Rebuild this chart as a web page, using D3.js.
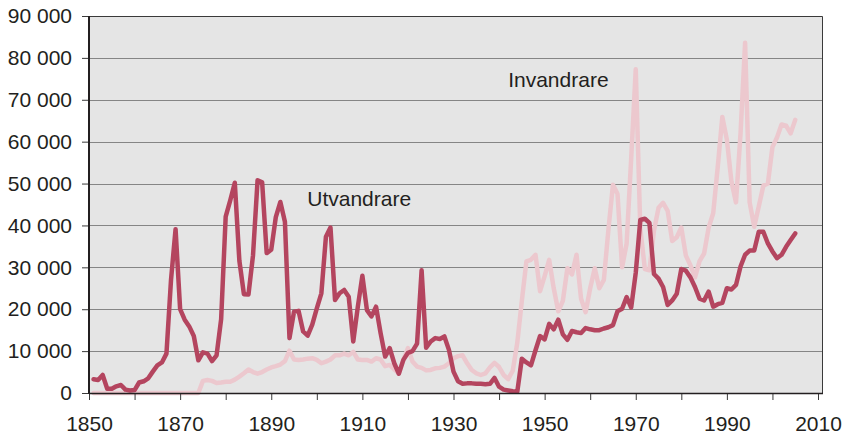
<!DOCTYPE html>
<html>
<head>
<meta charset="utf-8">
<script src="https://cdn.jsdelivr.net/npm/d3@7"></script>
<style>
  body { margin: 0; background: #fff; }
  svg { display: block; font-family: "Liberation Sans", Arial, sans-serif; }
</style>
</head>
<body>
<svg id="chart"></svg>
<script>
// yearly values 1851-2005
const years = d3.range(1851, 2006);

const utvandrare = [
  3300, 3100, 4300, 1000, 1000, 1600, 1900, 800, 600, 700,            // 1851-1860
  2500, 2800, 3500, 5100, 6600, 7300, 9400, 27000, 39100, 20000,      // 1861-1870
  17500, 15900, 13600, 7800, 9700, 9400, 7600, 9000, 17600, 42100,    // 1871-1880
  46000, 50200, 31600, 23600, 23500, 32900, 50800, 50300, 33400, 34200, // 1881-1890
  42000, 45600, 40900, 13100, 19400, 19600, 14700, 13700, 16300, 20200, // 1891-1900
  23800, 37300, 39500, 22200, 23800, 24600, 23000, 12300, 20600, 28000, // 1901-1910
  19800, 18300, 20600, 14300, 8700, 10700, 7100, 4600, 7900, 9600,    // 1911-1920
  10000, 11800, 29300, 10800, 12300, 13100, 12900, 13500, 10300, 5100, // 1921-1930
  2800, 2200, 2300, 2300, 2200, 2200, 2100, 2200, 3600, 1500,         // 1931-1940
  800, 600, 400, 300, 8200, 7300, 6600, 10200, 13600, 12800,          // 1941-1950
  16500, 15200, 17500, 14000, 12700, 14800, 14500, 14300, 15500, 15200, // 1951-1960
  15000, 15000, 15400, 15700, 16200, 19500, 20100, 22900, 20400, 28700, // 1961-1970
  41300, 41600, 40600, 28400, 27300, 25300, 21000, 22100, 23700, 29600, // 1971-1980
  29200, 27600, 25300, 22500, 22100, 24200, 20600, 21200, 21500, 25000, // 1981-1990
  24700, 25800, 30200, 33000, 34000, 34000, 38500, 38500, 35700, 33800, // 1991-2000
  32200, 33000, 34900, 36500, 38100                                   // 2001-2005
];

const invandrare = [
  0, 0, 0, 0, 0, 0, 0, 0, 0, 0,                                       // 1851-1860
  0, 0, 0, 0, 0, 0, 0, 0, 0, 0,                                       // 1861-1870
  0, 0, 0, 0, 2900, 3100, 2900, 2400, 2500, 2700,                     // 1871-1880
  2700, 3200, 3900, 4700, 5600, 5000, 4600, 5000, 5600, 6100,         // 1881-1890
  6400, 6800, 7600, 10100, 8000, 7900, 8000, 8200, 8300, 7900,        // 1891-1900
  7100, 7500, 8000, 9000, 9000, 9400, 9000, 9800, 8000, 7900,         // 1901-1910
  7900, 7500, 8300, 8000, 6400, 6700, 5600, 4700, 7900, 10700,        // 1911-1920
  7500, 6300, 6000, 5400, 5500, 5900, 6000, 6300, 7100, 8300,         // 1921-1930
  8800, 9000, 7100, 5500, 4700, 4300, 4700, 6100, 7200, 6200,         // 1931-1940
  4300, 3300, 5300, 12000, 22000, 31400, 31800, 33000, 24300, 27900,  // 1941-1950
  31800, 25000, 19500, 22000, 29800, 28300, 33000, 22500, 19300, 25000, // 1951-1960
  29800, 25000, 27000, 39000, 49700, 47500, 30000, 35700, 56000, 77300, // 1961-1970
  39300, 29600, 29300, 38800, 44200, 45400, 43500, 36300, 37200, 39500, // 1971-1980
  32800, 30500, 27600, 31500, 33300, 39500, 42900, 54000, 65900, 60500, // 1981-1990
  50500, 45500, 62000, 83600, 45500, 39700, 44500, 49500, 50000, 58700, // 1991-2000
  61000, 64100, 63800, 62000, 65200                                   // 2001-2005
];

const seriesNames = ["Utvandrare", "Invandrare"];
const seriesColors = ["#b4455f", "#ecc8ce"];
// where the series names sit, in data units
const nameYears = [1897.9, 1942];
const nameValues = [44600, 73000];

const yTicks = d3.range(0, 90001, 10000);
const xTicks = d3.range(1850, 2011, 10);
const xLabels = d3.range(1850, 2011, 20);

const width = 848, height = 434;
const plotLeft = 89, plotRight = 823, plotTop = 16, plotBottom = 393;

const svg = d3.select("#chart")
  .attr("width", width)
  .attr("height", height)
  .attr("viewBox", [0, 0, width, height]);

const x = d3.scaleLinear().domain([1850, 2010]).range([plotLeft, 818]);
const y = d3.scaleLinear().domain([0, 90000]).range([plotBottom, plotTop]);

const fmt = d3.formatLocale({ decimal: ",", thousands: "\u00a0", grouping: [3], currency: ["", ""] }).format(",");

// plot area
svg.append("rect")
  .attr("x", plotLeft)
  .attr("y", plotTop)
  .attr("width", plotRight - plotLeft)
  .attr("height", plotBottom - plotTop)
  .attr("fill", "#e5e5e5");

// grid lines
svg.append("g")
  .selectAll("line")
  .data(yTicks.filter(d => d > 0 && d < 90000))
  .join("line")
    .attr("x1", plotLeft)
    .attr("x2", plotRight)
    .attr("y1", d => Math.round(y(d)) + 0.5)
    .attr("y2", d => Math.round(y(d)) + 0.5)
    .attr("stroke", "#858585")
    .attr("stroke-width", 1);

// frame top / right
svg.append("path")
  .attr("d", `M${plotLeft},${plotTop + 0.5}H${plotRight - 0.5}V${plotBottom}`)
  .attr("fill", "none")
  .attr("stroke", "#3a3a3a")
  .attr("stroke-width", 1);

// series lines
const line = d3.line()
  .x((d, i) => x(years[i]))
  .y(d => y(d));

const series = [utvandrare, invandrare];
svg.append("g")
  .selectAll("path")
  .data([1, 0])
  .join("path")
    .attr("d", k => line(series[k]))
    .attr("fill", "none")
    .attr("stroke", k => seriesColors[k])
    .attr("stroke-width", 4.5)
    .attr("stroke-linejoin", "round")
    .attr("stroke-linecap", "round");

// y axis
const yAxis = svg.append("g").attr("transform", `translate(${plotLeft},0)`)
  .call(d3.axisLeft(y).tickValues(yTicks).tickFormat(fmt).tickSize(7).tickPadding(10))
  .call(g => g.select(".domain").remove());
yAxis.selectAll(".tick line").attr("stroke", "#3a3a3a").attr("stroke-width", 1);
yAxis.selectAll(".tick text")
  .attr("font-size", 21)
  .attr("font-family", "'Liberation Sans', Arial, sans-serif")
  .attr("fill", "#231f20");
svg.append("line")
  .attr("x1", plotLeft).attr("x2", plotLeft)
  .attr("y1", plotTop).attr("y2", plotBottom + 1)
  .attr("stroke", "#231f20")
  .attr("stroke-width", 2);

// x axis
const xAxis = svg.append("g").attr("transform", `translate(0,${plotBottom})`)
  .call(d3.axisBottom(x).tickValues(xTicks).tickFormat(d => xLabels.includes(d) ? d : "").tickSize(7).tickPadding(16))
  .call(g => g.select(".domain").remove());
xAxis.selectAll(".tick line").attr("stroke", "#3a3a3a").attr("stroke-width", 1);
xAxis.selectAll(".tick text")
  .attr("font-size", 21)
  .attr("font-family", "'Liberation Sans', Arial, sans-serif")
  .attr("fill", "#231f20");
svg.append("line")
  .attr("x1", plotLeft).attr("x2", plotRight)
  .attr("y1", plotBottom + 0.5).attr("y2", plotBottom + 0.5)
  .attr("stroke", "#231f20")
  .attr("stroke-width", 1.5);

// series names
svg.append("g")
  .selectAll("text")
  .data(seriesNames)
  .join("text")
    .attr("x", (d, i) => x(nameYears[i]))
    .attr("y", (d, i) => y(nameValues[i]))
    .attr("font-size", 21)
    .attr("fill", "#231f20")
    .text(d => d);
</script>
</body>
</html>
